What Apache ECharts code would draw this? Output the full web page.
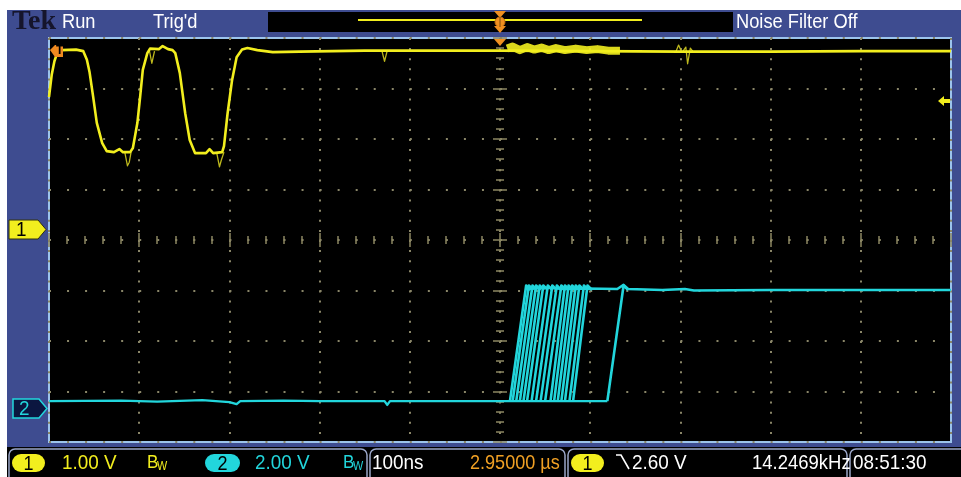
<!DOCTYPE html>
<html>
<head>
	<meta charset="utf-8">
	<title>Tek scope capture</title>
	<style>
		body{margin:0;background:#fff;}
		#wrap{position:relative;width:961px;height:477px;overflow:hidden;}
		#bezel{position:absolute;left:7px;top:10px;width:954px;height:437px;background:#3e4c90;}
		#scope{position:absolute;left:0;top:0;width:961px;height:477px;}
	</style>
</head>
<body>
<script type="text/javascript" src="https://cdn.jsdelivr.net/npm/echarts@6/dist/echarts.min.js"></script>
<div id="wrap">
	<div id="bezel"></div>
	<div id="scope"></div>
</div>
<script>
// horizontal: 100ns/div, 10 div, trigger in the middle
var timeMin = -500, timeMax = 500, timeDiv = 100;
// vertical: 8 div
var divMin = -4, divMax = 4;

// channel settings (V/div, ground marker position in div)
var ch1Scale = 1.00, ch1Pos = 0.22;
var ch2Scale = 2.00, ch2Pos = -3.33;

// ch1 (yellow) main trace [ns, V]
var ch1Trace = [
	[-500, 2.61], [-497, 3.05], [-494, 3.32], [-491, 3.48], [-486, 3.54], [-470, 3.55], [-462, 3.52],
	[-458, 3.35], [-455, 3.10], [-451, 2.61], [-447, 2.10], [-441, 1.70], [-436, 1.54], [-428, 1.52],
	[-422, 1.58], [-418, 1.52], [-410, 1.52], [-407, 1.60], [-402, 2.10], [-399, 2.61], [-396, 3.15],
	[-391, 3.48], [-388, 3.57], [-378, 3.56], [-374, 3.62], [-368, 3.56], [-363, 3.54], [-360, 3.48],
	[-355, 3.09], [-349, 2.29], [-344, 1.76], [-338, 1.50], [-326, 1.50], [-322, 1.58], [-318, 1.50],
	[-308, 1.52], [-306, 1.64], [-302, 2.29], [-297, 2.95], [-292, 3.40], [-286, 3.55], [-280, 3.58],
	[-269, 3.54], [-252, 3.50], [-222, 3.51], [-150, 3.53], [-60, 3.53], [0, 3.53], [100, 3.52],
	[200, 3.51], [300, 3.51], [400, 3.52], [500, 3.52]
];
// ch1 persistence glitches, each a short segment [ns, V]
var ch1Glitches = [
	[[-416, 1.52], [-413, 1.25], [-411, 1.32], [-409, 1.52]],
	[[-389, 3.56], [-386, 3.28], [-383, 3.52]],
	[[-314, 1.50], [-311, 1.23], [-309, 1.36], [-306, 1.52]],
	[[-131, 3.53], [-128, 3.32], [-125, 3.53]],
	[[195, 3.51], [198, 3.64], [201, 3.52]],
	[[203, 3.52], [206, 3.60], [208, 3.27], [211, 3.58], [214, 3.51]]
];
// ch1 noisy band after trigger [ns, V]
var ch1Band = [
	[8, 3.57], [14, 3.61], [22, 3.54], [30, 3.60], [38, 3.55], [46, 3.59], [54, 3.54], [62, 3.58],
	[72, 3.54], [84, 3.57], [96, 3.54], [108, 3.56], [120, 3.53], [133, 3.53]
];

// ch2 (cyan) levels in V
var ch2Base = [
	[-500, 0.28], [-420, 0.30], [-380, 0.26], [-330, 0.32], [-300, 0.24], [-292, 0.16], [-288, 0.28],
	[-240, 0.30], [-200, 0.28], [-128, 0.28], [-125, 0.13], [-122, 0.28], [0, 0.28], [119, 0.28]
];
var ch2Top = [
	[29, 4.72], [50, 4.78], [70, 4.72], [95, 4.74], [130, 4.72], [137, 4.88], [142, 4.72], [180, 4.68],
	[205, 4.72], [215, 4.66], [300, 4.68], [400, 4.68], [500, 4.68]
];
// ch2 rising edges over many acquisitions: [start ns, end ns]
var ch2Edges = [
	[11, 29], [14, 32], [18, 36], [22, 40], [26, 44], [30, 48], [35, 53], [40, 58], [45, 63],
	[50, 68], [56, 72], [60, 76], [64, 80], [68, 84], [72, 88], [77, 93], [81, 97], [119, 137]
];
var ch2Low = 0.28, ch2High = 4.68, ch2Over = 4.86;

var yellow = '#f2ee1e', cyan = '#22d6dc', tickColor = '#8c8762', dotColor = '#8a8668';
var font = "'Liberation Sans Narrow', 'Liberation Sans', sans-serif";

function toDiv(v, scale, pos){ return v / scale + pos; }
function ch1(p){ return [p[0], toDiv(p[1], ch1Scale, ch1Pos)]; }
function ch2(p){ return [p[0], toDiv(p[1], ch2Scale, ch2Pos)]; }

var series = [];
function addLine(data, color, width, opacity){
	series.push({
		type: 'line', data: data, showSymbol: false, symbol: 'none', animation: false,
		xAxisIndex: 0, yAxisIndex: 0, silent: true,
		lineStyle: {color: color, width: width, opacity: opacity || 1, join: 'round'}
	});
}
// cyan
addLine(ch2Base.map(ch2), cyan, 2.4);
addLine(ch2Top.map(ch2), cyan, 2.6);
for(var i = 0; i < ch2Edges.length; i++){
	var e = ch2Edges[i];
	addLine([[e[0], ch2Low], [e[1], ch2Over], [e[1] + 5, ch2High]].map(ch2), cyan, 2.6);
}
// yellow
for(var g = 0; g < ch1Glitches.length; g++){
	addLine(ch1Glitches[g].map(ch1), '#bdb81c', 1.3);
}
addLine(ch1Trace.map(ch1), yellow, 2.6);
addLine(ch1Band.map(ch1), yellow, 8, 0.9);

function xAx(pos, offset, inside, tickLen, minorLen, split){
	return {
		type: 'value', min: timeMin, max: timeMax, interval: timeDiv, position: pos, offset: offset,
		axisLine: {show: false}, axisLabel: {show: false},
		axisTick: {show: true, inside: inside, length: tickLen, lineStyle: {color: tickColor, width: 1.5}},
		minorTick: {show: true, splitNumber: 5, length: minorLen, lineStyle: {color: tickColor, width: 1.5}},
		splitLine: {show: split, lineStyle: {color: dotColor, width: 2, type: [2, 8.1]}}
	};
}
function yAx(pos, offset, inside, tickLen, minorLen, split){
	return {
		type: 'value', min: divMin, max: divMax, interval: 1, position: pos, offset: offset,
		axisLine: {show: false}, axisLabel: {show: false},
		axisTick: {show: true, inside: inside, length: tickLen, lineStyle: {color: tickColor, width: 1.5}},
		minorTick: {show: true, splitNumber: 5, length: minorLen, lineStyle: {color: tickColor, width: 1.5}},
		splitLine: {show: split, lineStyle: {color: dotColor, width: 2, type: [2, 16.04]}}
	};
}

// scope font is narrow: scale text horizontally around its left edge
function txt(s, x, y, color, size, sx, extra){
	var o = {type: 'text', z: 120, x: x, y: y, scaleX: sx || 0.9, originX: 0, originY: 0, style: {
		text: s, x: 0, y: 0, fill: color, font: (size || 21) + 'px ' + font,
		textVerticalAlign: 'middle', verticalAlign: 'middle', textAlign: 'left', align: 'left'
	}};
	if(extra){ for(var k in extra){ o.style[k] = extra[k]; } }
	return o;
}
function bw(x, color){
	return [txt('B', x, 463, color, 19), txt('W', x + 10, 467, color, 12)];
}
function pill(x, w, fill, label, labelColor){
	return [
		{type: 'rect', z: 100, shape: {x: x, y: 454, width: w, height: 18, r: 9}, style: {fill: fill}},
		txt(label, x + w / 2, 464, labelColor, 20, 0.9, {textAlign: 'center', align: 'center'})
	];
}

var graphics = [
	// top bar
	txt('Tek', 12, 22, '#15152c', 28, 1, {font: 'bold 28px "Liberation Serif", "DejaVu Serif", serif'}),
	txt('Run', 62, 22, '#ffffff', 21, 0.87),
	txt("Trig'd", 153, 22, '#ffffff', 21, 0.87),
	{type: 'rect', z: 100, shape: {x: 268, y: 12, width: 465, height: 20}, style: {fill: '#000'}},
	{type: 'line', z: 101, shape: {x1: 358, y1: 20, x2: 642, y2: 20}, style: {stroke: yellow, lineWidth: 2}},
	{type: 'polygon', z: 102, shape: {points: [[494, 11], [506, 11], [500, 18]]}, style: {fill: '#f09020'}},
	{type: 'circle', z: 102, shape: {cx: 500, cy: 22, r: 5}, style: {fill: '#f09020', stroke: '#c06a10', lineWidth: 1}},
	{type: 'line', z: 103, shape: {x1: 500, y1: 17, x2: 500, y2: 27}, style: {stroke: '#7a4a10', lineWidth: 1}},
	{type: 'polygon', z: 102, shape: {points: [[494, 26], [506, 26], [500, 33]]}, style: {fill: '#f09020'}},
	txt('Noise Filter Off', 736, 22, '#ffffff', 21, 0.87),
	// trigger position on graticule
	{type: 'polygon', z: 110, shape: {points: [[494, 39], [506, 39], [500, 46]]}, style: {fill: '#f09020'}},
	// trigger level marker (left) and arrow (right)
	{type: 'polygon', z: 110, shape: {points: [[50, 50], [55, 45], [63, 45], [63, 57], [55, 57]]}, style: {fill: '#f08a20'}},
	txt('T', 56, 51, '#000', 12, 1, {font: 'bold 12px ' + font}),
	{type: 'polygon', z: 110, shape: {points: [[938, 101], [944, 96], [944, 99], [950, 99], [950, 103], [944, 103], [944, 106]]}, style: {fill: yellow}},
	// channel ground markers
	{type: 'polygon', z: 110, shape: {points: [[9, 220], [38, 220], [46, 229.5], [38, 239], [9, 239]]}, style: {fill: yellow, stroke: '#303010', lineWidth: 1}},
	txt('1', 16, 230, '#000', 21),
	{type: 'polygon', z: 110, shape: {points: [[13, 399], [39, 399], [47, 408.5], [39, 418], [13, 418]]}, style: {fill: '#0b1640', stroke: cyan, lineWidth: 1.5}},
	txt('2', 19, 409, cyan, 21),
	// bottom bar
	{type: 'rect', z: 90, shape: {x: 7, y: 447, width: 954, height: 30}, style: {fill: '#000'}},
	{type: 'rect', z: 91, shape: {x: 9, y: 449, width: 358, height: 34, r: 6}, style: {fill: 'none', stroke: '#9aa6c8', lineWidth: 1.5}},
	{type: 'rect', z: 91, shape: {x: 370, y: 449, width: 195, height: 34, r: 6}, style: {fill: 'none', stroke: '#9aa6c8', lineWidth: 1.5}},
	{type: 'rect', z: 91, shape: {x: 568, y: 449, width: 279, height: 34, r: 6}, style: {fill: 'none', stroke: '#9aa6c8', lineWidth: 1.5}},
	{type: 'rect', z: 91, shape: {x: 850, y: 449, width: 120, height: 34, r: 6}, style: {fill: 'none', stroke: '#9aa6c8', lineWidth: 1.5}},
	txt('1.00 V', 62, 463, yellow),
	txt('2.00 V', 255, 463, cyan),
	txt('100ns', 372, 463, '#ffffff'),
	txt('2.95000 µs', 470, 463, '#f0a024', 21, 0.86),
	{type: 'polyline', z: 100, shape: {points: [[616, 455], [621, 455], [629, 469]]}, style: {stroke: '#fff', lineWidth: 1.6, fill: 'none'}},
	txt('2.60 V', 632, 463, '#ffffff'),
	txt('14.2469kHz', 752, 463, '#ffffff', 21, 0.88),
	txt('08:51:30', 853, 463, '#ffffff')
].concat(bw(147, yellow), bw(343, cyan), pill(12, 33, yellow, '1', '#000'), pill(205, 35, cyan, '2', '#000'), pill(571, 33, yellow, '1', '#000'));

var myChart = echarts.init(document.getElementById('scope'), null, {renderer: 'canvas'});
myChart.setOption({
	backgroundColor: 'transparent',
	animation: false,
	grid: {left: 49, top: 38, width: 902, height: 404, show: true, backgroundColor: '#000', borderColor: '#9cc4ec', borderWidth: 2},
	xAxis: [
		xAx('bottom', 0, true, 7, 4, true),
		xAx('top', 0, true, 7, 4, false),
		xAx('bottom', -202, true, 4, 4, false),
		xAx('bottom', -202, false, 4, 4, false)
	],
	yAxis: [
		yAx('left', 0, true, 7, 4, true),
		yAx('right', 0, true, 7, 4, false),
		yAx('left', -451, true, 4, 4, false),
		yAx('left', -451, false, 4, 4, false)
	],
	series: series,
	graphic: graphics
});
</script>
</body>
</html>
